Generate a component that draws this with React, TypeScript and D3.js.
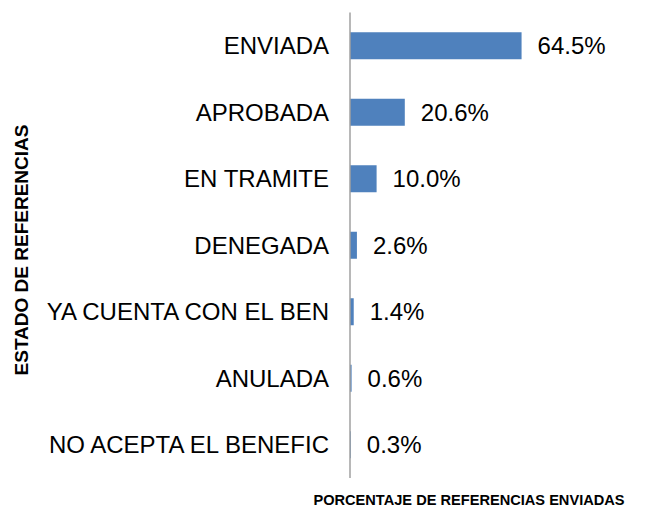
import React from "react";
import * as d3 from "d3";

const categories = [
  "ENVIADA",
  "APROBADA",
  "EN TRAMITE",
  "DENEGADA",
  "YA CUENTA CON EL BEN",
  "ANULADA",
  "NO ACEPTA EL BENEFIC",
];
const values = [64.5, 20.6, 10.0, 2.6, 1.4, 0.6, 0.3];
const valueLabels = ["64.5%", "20.6%", "10.0%", "2.6%", "1.4%", "0.6%", "0.3%"];
const yTitle = "ESTADO DE REFERENCIAS";
const xTitle = "PORCENTAJE DE REFERENCIAS ENVIADAS";

const W = 653;
const H = 511;
const FONT = "'Liberation Sans', Arial, sans-serif";

export default function App() {
  const x = d3.scaleLinear().domain([0, 100]).range([350, 616]);
  const y = d3
    .scaleBand<string>()
    .domain(categories)
    .range([12.5, 478])
    .paddingInner(0.594)
    .paddingOuter(0.297);
  const bw = y.bandwidth();

  return (
    <svg
      width={W}
      height={H}
      style={{ position: "absolute", left: 0, top: 0, background: "#fff" }}
      fontFamily={FONT}
    >
      {categories.map((c, i) => {
        const yc = (y(c) as number) + bw / 2;
        return (
          <g key={c}>
            <rect
              x={x(0)}
              y={y(c)}
              width={Math.max(0, x(values[i]) - x(0))}
              height={bw}
              fill="#4F81BD"
            />
            <text
              x={329}
              y={yc + 8.5}
              textAnchor="end"
              fontSize={24}
              fill="#000"
            >
              {c}
            </text>
            <text x={x(values[i]) + 16} y={yc + 8.5} fontSize={24} fill="#000">
              {valueLabels[i]}
            </text>
          </g>
        );
      })}
      <line x1={350} x2={350} y1={y.range()[0]} y2={y.range()[1]} stroke="#A0A0A0" strokeWidth={1.5} />
      <text
        transform={`translate(28,250) rotate(-90)`}
        textAnchor="middle"
        fontSize={19}
        fontWeight="bold"
        fill="#000"
      >
        {yTitle}
      </text>
      <text x={469} y={505} textAnchor="middle" fontSize={14.6} fontWeight="bold" fill="#000">
        {xTitle}
      </text>
    </svg>
  );
}
